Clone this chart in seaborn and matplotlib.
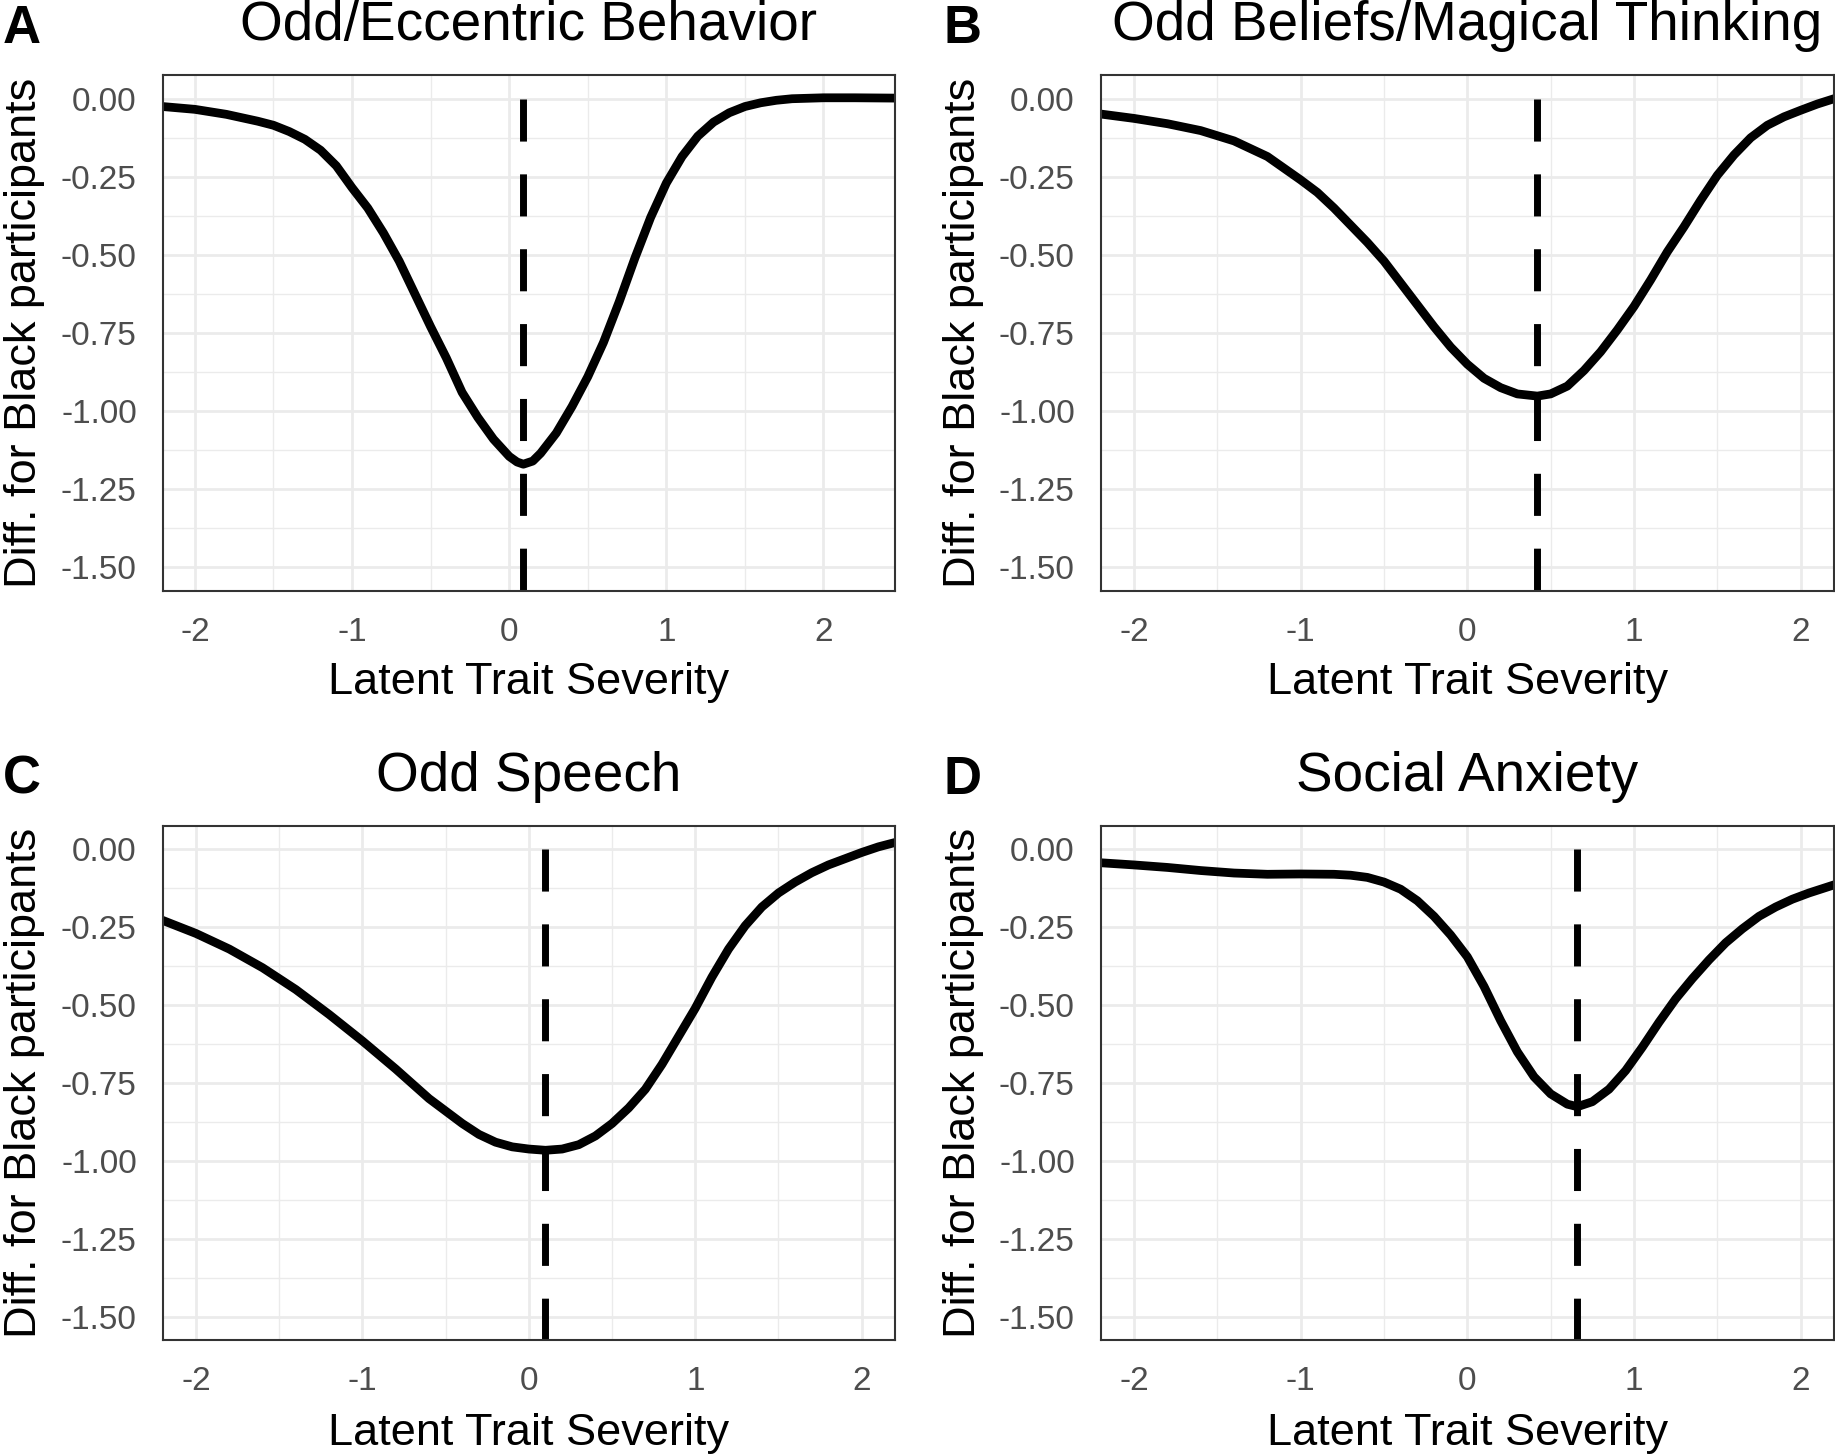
import numpy as np
import pandas as pd
import seaborn as sns
import matplotlib
matplotlib.use("Agg")
import matplotlib.pyplot as plt

# curves (latent trait -> difference for Black participants)
a_x = [-2.205, -2.0, -1.8, -1.6, -1.5, -1.4, -1.3, -1.2, -1.1, -1.0, -0.9, -0.8, -0.7, -0.6, -0.5,
       -0.4, -0.3, -0.2, -0.1, 0.0, 0.05, 0.09, 0.15, 0.2, 0.3, 0.4, 0.5, 0.6, 0.7, 0.8, 0.9, 1.0, 1.1,
       1.2, 1.3, 1.4, 1.5, 1.6, 1.7, 1.8, 2.0, 2.2, 2.455]
a_y = [-0.025, -0.034, -0.050, -0.072, -0.085, -0.105, -0.13, -0.165, -0.215, -0.285, -0.35, -0.43,
       -0.52, -0.625, -0.73, -0.83, -0.94, -1.02, -1.09, -1.145, -1.163, -1.17, -1.16, -1.135,
       -1.07, -0.985, -0.89, -0.78, -0.65, -0.51, -0.38, -0.27, -0.185, -0.12, -0.075, -0.045,
       -0.025, -0.013, -0.005, 0.0, 0.003, 0.003, 0.002]

b_x = [-2.2, -2.0, -1.8, -1.6, -1.4, -1.2, -1.0, -0.9, -0.8, -0.7, -0.6, -0.5, -0.4, -0.3, -0.2,
       -0.1, 0.0, 0.1, 0.2, 0.3, 0.42, 0.5, 0.6, 0.7, 0.8, 0.9, 1.0, 1.1, 1.2, 1.3, 1.4, 1.5,
       1.6, 1.7, 1.8, 1.9, 2.0, 2.1, 2.2]
b_y = [-0.049, -0.063, -0.080, -0.102, -0.135, -0.185, -0.26, -0.30, -0.35, -0.405, -0.46, -0.52,
       -0.59, -0.66, -0.73, -0.795, -0.85, -0.895, -0.925, -0.945, -0.952, -0.945, -0.92, -0.87,
       -0.81, -0.74, -0.665, -0.58, -0.49, -0.41, -0.325, -0.245, -0.18, -0.125, -0.085, -0.058,
       -0.037, -0.017, 0.0]

c_x = [-2.2, -2.0, -1.8, -1.6, -1.4, -1.2, -1.0, -0.8, -0.6, -0.4, -0.3, -0.2, -0.1, 0.0, 0.1,
       0.2, 0.3, 0.4, 0.5, 0.6, 0.7, 0.8, 0.9, 1.0, 1.1, 1.2, 1.3, 1.4, 1.5, 1.6, 1.7, 1.8,
       1.9, 2.0, 2.1, 2.2]
c_y = [-0.228, -0.27, -0.32, -0.38, -0.45, -0.53, -0.615, -0.705, -0.80, -0.88, -0.915, -0.94,
       -0.955, -0.962, -0.966, -0.962, -0.948, -0.92, -0.88, -0.83, -0.77, -0.69, -0.60, -0.51,
       -0.41, -0.32, -0.245, -0.185, -0.14, -0.105, -0.075, -0.05, -0.03, -0.01, 0.008, 0.022]

d_x = [-2.2, -2.0, -1.8, -1.6, -1.4, -1.2, -1.0, -0.8, -0.7, -0.6, -0.5, -0.4, -0.3, -0.2, -0.1,
       0.0, 0.1, 0.2, 0.3, 0.4, 0.5, 0.6, 0.66, 0.75, 0.85, 0.95, 1.05, 1.15, 1.25, 1.35, 1.45,
       1.55, 1.65, 1.75, 1.85, 1.95, 2.05, 2.2]
d_y = [-0.043, -0.05, -0.058, -0.068, -0.076, -0.08, -0.079, -0.080, -0.083, -0.09, -0.105, -0.128,
       -0.165, -0.215, -0.275, -0.345, -0.44, -0.55, -0.65, -0.73, -0.785, -0.818, -0.826, -0.81,
       -0.77, -0.71, -0.635, -0.555, -0.48, -0.415, -0.355, -0.30, -0.255, -0.215, -0.185, -0.16,
       -0.14, -0.114]

# where the dashed line sits in each panel
cut_points = [0.09, 0.42, 0.10, 0.66]

titles = ["Odd/Eccentric Behavior", "Odd Beliefs/Magical Thinking", "Odd Speech", "Social Anxiety"]
letters = ["A", "B", "C", "D"]
x_ticks = [-2, -1, 0, 1, 2]
x_tick_labels = ["-2", "-1", "0", "1", "2"]
y_ticks = [0.0, -0.25, -0.5, -0.75, -1.0, -1.25, -1.5]
y_tick_labels = ["0.00", "-0.25", "-0.50", "-0.75", "-1.00", "-1.25", "-1.50"]

sns.set_style("white")
plt.rcParams['font.family'] = ['Liberation Sans', 'DejaVu Sans']

W, H = 1835, 1454
fig = plt.figure(figsize=(W / 100, H / 100), dpi=100)

def frac_y(y):
    return 1 - y / H

# panel boxes in pixels: left, top, right, bottom
boxes = [(162.7, 75.3, 895, 590.7), (1100.7, 75.3, 1834, 590.7),
         (162.7, 826, 895, 1340), (1100.7, 826, 1834, 1340)]
xlims = [(-2.205, 2.455), (-2.2, 2.2), (-2.2, 2.2), (-2.2, 2.2)]
curves = [(a_x, a_y), (b_x, b_y), (c_x, c_y), (d_x, d_y)]
ylim = (-1.575, 0.075)

for i, (l, t, r, b) in enumerate(boxes):
    ax = fig.add_axes([l / W, 1 - b / H, (r - l) / W, (b - t) / H])
    df = pd.DataFrame({'x': curves[i][0], 'y': curves[i][1]})
    sns.lineplot(data=df, x='x', y='y', ax=ax, color='black', linewidth=6.3,
                 estimator=None, sort=True, solid_joinstyle='round')
    # dash pattern starts at y = 0 and ends on a dash at the panel floor
    ax.vlines(cut_points[i], 0, ylim[0], colors='black', linewidth=5,
              linestyles=(0, (6.06, 4.72)))
    ax.set_xlim(*xlims[i])
    ax.set_ylim(*ylim)
    ax.set_xticks(x_ticks)
    ax.set_xticklabels(x_tick_labels)
    ax.set_yticks(y_ticks)
    ax.set_yticklabels(y_tick_labels)
    ax.set_xticks([-1.5, -0.5, 0.5, 1.5], minor=True)
    ax.set_yticks([-0.125, -0.375, -0.625, -0.875, -1.125, -1.375], minor=True)
    ax.grid(which='major', color='#EBEBEB', linewidth=2)
    ax.grid(which='minor', color='#EBEBEB', linewidth=1)
    ax.set_axisbelow(True)
    ax.tick_params(which='major', length=8.6, width=1.9, color='#333333',
                   labelcolor='#4D4D4D', labelsize=24, pad=10)
    ax.tick_params(which='minor', length=0)
    for s in ax.spines.values():
        s.set_color('#333333')
        s.set_linewidth(1.5)
    ax.set_xlabel('')
    ax.set_ylabel('')

    cx = (l + r) / 2
    cy = (t + b) / 2
    row_shift = 0 if i < 2 else 750.7
    fig.text(cx / W, frac_y(40 + row_shift), titles[i], ha='center', va='baseline',
             fontsize=39.5, color='black')
    lx = 3 if i % 2 == 0 else 943
    fig.text(lx / W, frac_y(43 + row_shift), letters[i], ha='left', va='baseline',
             fontsize=38, fontweight='bold', color='black')
    fig.text(cx / W, frac_y(694 + row_shift), "Latent Trait Severity", ha='center',
             va='baseline', fontsize=32.5, color='black')
    ylx = 25 if i % 2 == 0 else 963
    fig.text(ylx / W, frac_y(cy), "Diff. for Black participants", rotation=90,
             ha='center', va='center', fontsize=32.5, color='black')

fig.savefig("out.png", dpi=100)
